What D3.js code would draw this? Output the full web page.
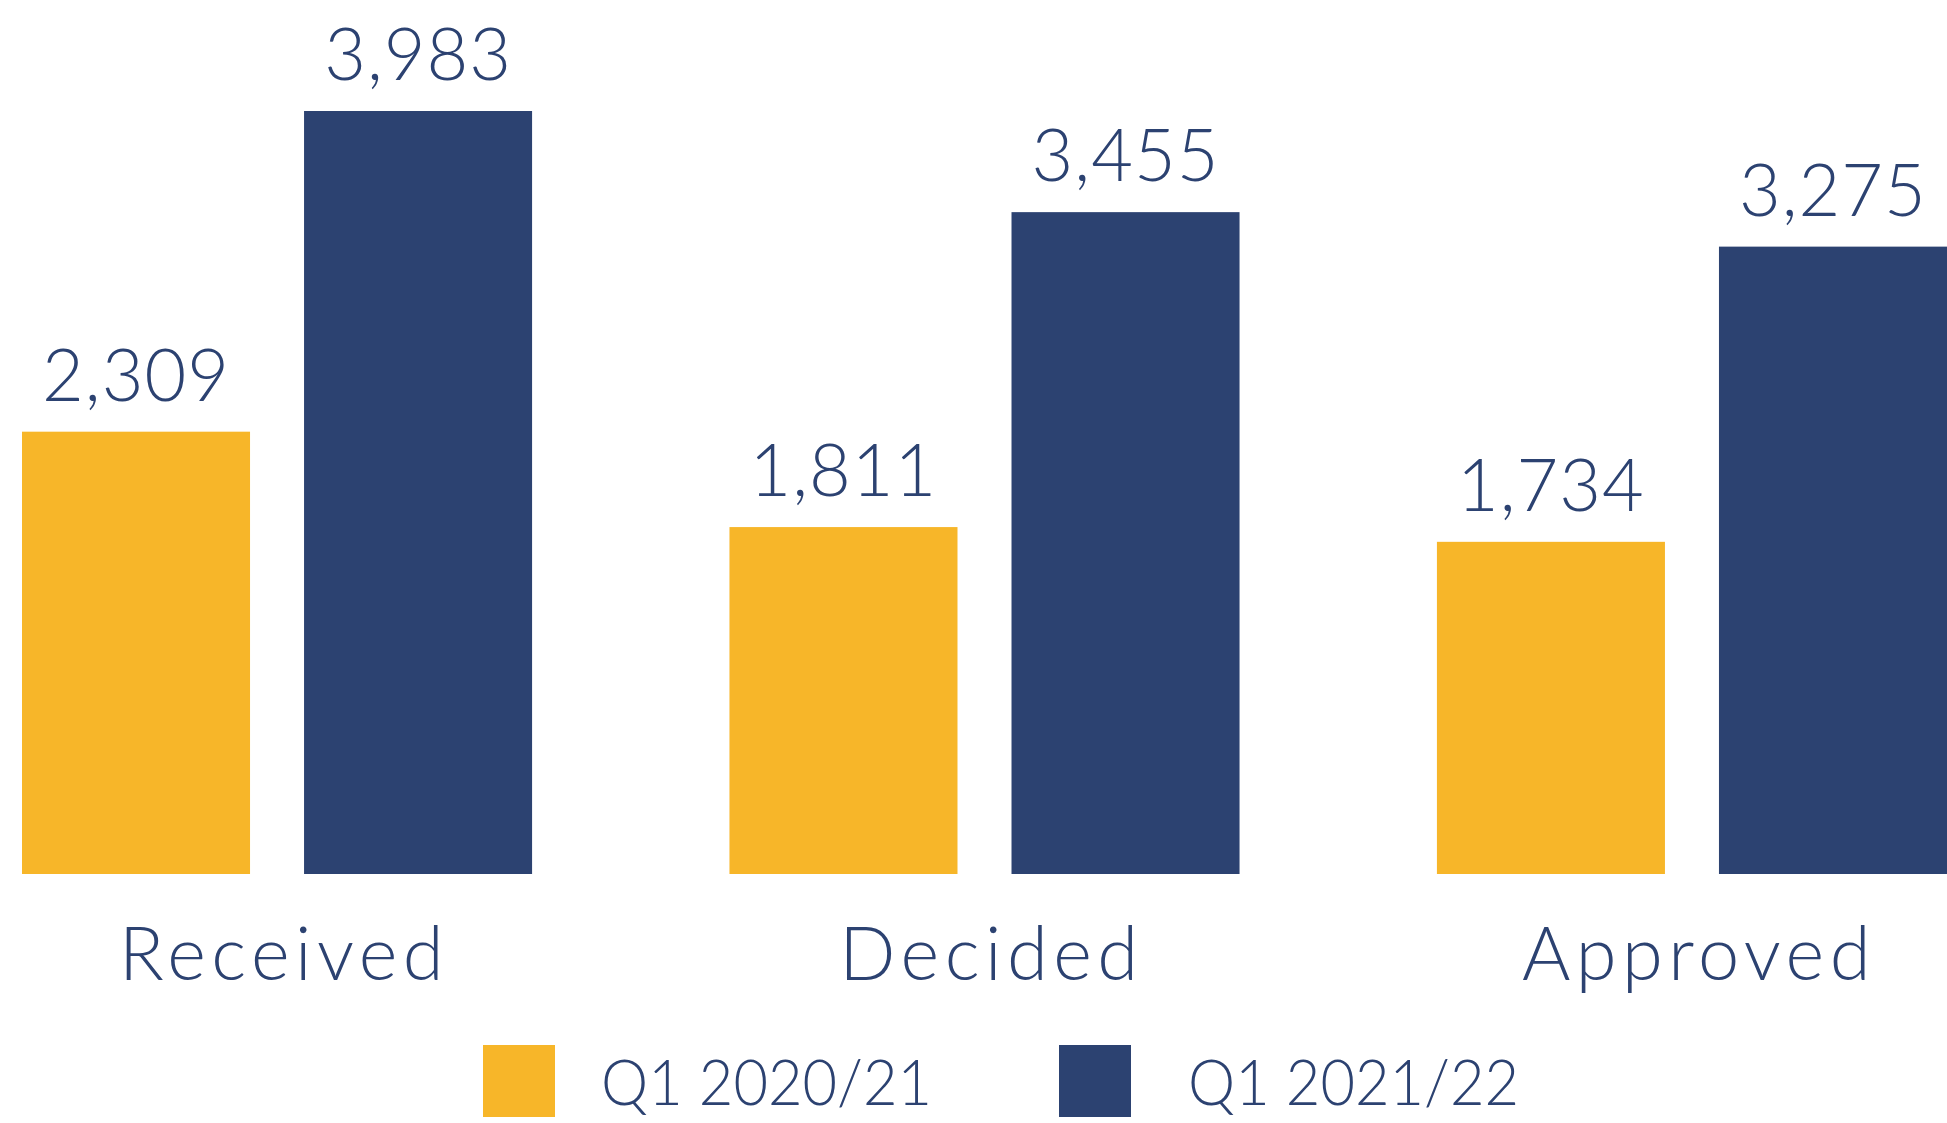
<!DOCTYPE html>
<html>
<head>
<meta charset="utf-8">
<script src="https://cdn.jsdelivr.net/npm/d3@7"></script>
<style>
  html, body { margin: 0; padding: 0; background: #fff; }
  svg { display: block; }
  text { font-family: Lato, "Open Sans", sans-serif; font-weight: 300; fill: #2C4271; }
</style>
</head>
<body>
<svg id="chart" width="1947" height="1123"></svg>
<script>
const categories = ["Received", "Decided", "Approved"];
const seriesNames = ["Q1 2020/21", "Q1 2021/22"];
const q1_2020_21 = [2309, 1811, 1734];
const q1_2021_22 = [3983, 3455, 3275];
const colors = ["#F7B629", "#2C4271"];

const rows = categories.map((c, i) => ({ category: c, values: [q1_2020_21[i], q1_2021_22[i]] }));

const svg = d3.select("#chart");
const baseline = 874;

const x0 = d3.scaleBand().domain(categories).range([22, 1947]).paddingInner(0.279).paddingOuter(0);
const x1 = d3.scaleBand().domain(seriesNames).range([0, x0.bandwidth()]).paddingInner(0.1915).paddingOuter(0);
const y = d3.scaleLinear().domain([0, 3983]).range([baseline, 111]);
const fmt = d3.format(",");

const groups = svg.selectAll("g.group").data(rows).join("g")
  .attr("class", "group")
  .attr("transform", d => `translate(${x0(d.category)},0)`);

groups.selectAll("rect").data(d => d.values.map((v, j) => ({ v, s: seriesNames[j], j })))
  .join("rect")
  .attr("x", d => x1(d.s))
  .attr("y", d => y(d.v))
  .attr("width", x1.bandwidth())
  .attr("height", d => baseline - y(d.v))
  .attr("fill", d => colors[d.j]);

groups.selectAll("text.val").data(d => d.values.map((v, j) => ({ v, s: seriesNames[j], j })))
  .join("text")
  .attr("class", "val")
  .attr("x", d => x1(d.s) + x1.bandwidth() / 2)
  .attr("y", d => y(d.v) - 31)
  .attr("text-anchor", "middle")
  .style("font-size", "72px")
  .style("letter-spacing", "1px")
  .text(d => fmt(d.v));

// category axis labels
const xAxis = d3.axisBottom(x0).tickSize(0).tickPadding(0);
const axisG = svg.append("g").attr("transform", `translate(0,${980})`).call(xAxis);
axisG.select(".domain").remove();
axisG.selectAll("text")
  .attr("dy", 0)
  .attr("y", 0)
  .attr("dx", "7")
  .style("font-family", "Lato, 'Open Sans', sans-serif")
  .style("font-weight", "300")
  .style("font-size", "74px")
  .style("letter-spacing", "5.5px")
  .attr("fill", "#2C4271");

// legend
const legendX = [483, 1059];
const legend = svg.selectAll("g.legend").data(seriesNames).join("g")
  .attr("class", "legend")
  .attr("transform", (d, i) => `translate(${legendX[i]},1045)`);
legend.append("rect").attr("width", 72).attr("height", 72).attr("fill", (d, i) => colors[i]);
legend.append("text")
  .attr("x", (d, i) => i === 0 ? 118 : 129)
  .attr("y", 60)
  .style("font-size", "64px")
  .attr("textLength", 331)
  .attr("lengthAdjust", "spacingAndGlyphs")
  .text(d => d);
</script>
</body>
</html>
